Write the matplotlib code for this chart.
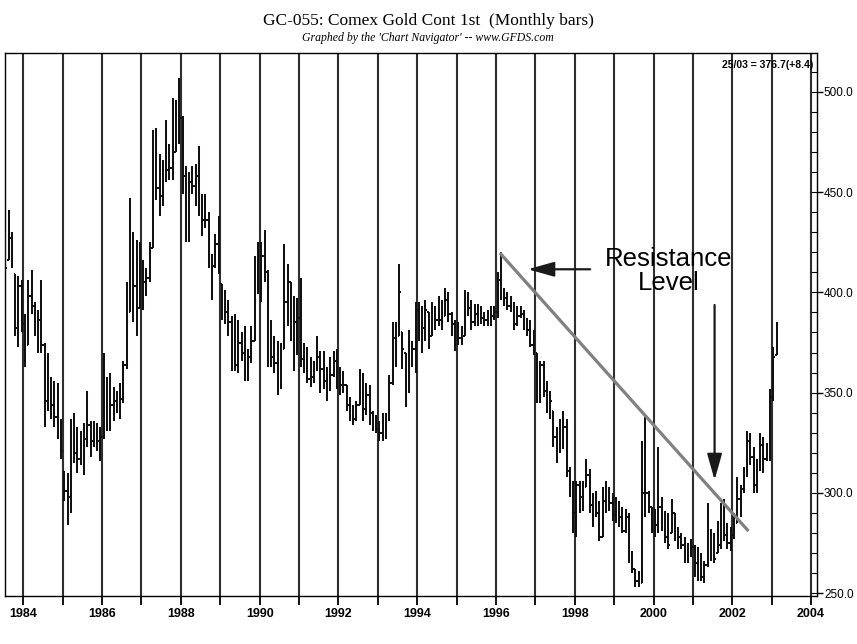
import numpy as np
import pandas as pd
import matplotlib
matplotlib.use("Agg")
import matplotlib.pyplot as plt
from matplotlib.collections import LineCollection
from matplotlib.patches import ArrowStyle

# ---------------- data (monthly bars, Jul 1983 .. Feb 2003) ----------------
first_month = "1983-07"
last_month = "2003-02"

highs = [
    428, 441, 430, 409, 408, 406,                                   # 1983 Jul-Dec
    389, 406, 411, 395, 391, 406, 375, 370, 358, 356, 355, 337,     # 1984
    311, 310, 337, 340, 333, 331, 335, 351, 336, 336, 335, 333,     # 1985
    370, 358, 360, 353, 351, 355, 366, 405, 447, 430, 426, 425,     # 1986
    416, 412, 425, 481, 482, 469, 466, 486, 474, 497, 496, 507,     # 1987
    488, 463, 460, 463, 464, 473, 449, 449, 440, 419, 429, 438,     # 1988
    404, 401, 396, 388, 389, 386, 380, 383, 372, 383, 418, 425,     # 1989
    425, 431, 411, 386, 378, 376, 375, 424, 414, 405, 398, 397,     # 1990
    407, 375, 373, 368, 366, 378, 371, 371, 363, 368, 371, 372,     # 1991
    363, 361, 354, 348, 344, 346, 362, 360, 355, 354, 341, 339,     # 1992
    336, 340, 340, 359, 385, 385, 414, 380, 370, 381, 376, 395,     # 1993
    395, 393, 396, 390, 395, 393, 398, 396, 402, 400, 390, 386,     # 1994
    385, 383, 401, 400, 396, 394, 394, 393, 390, 391, 393, 393,     # 1995
    410, 420, 402, 400, 398, 395, 393, 393, 391, 387, 386, 381,     # 1996
    370, 366, 366, 356, 351, 341, 333, 337, 341, 337, 313, 306,     # 1997
    306, 306, 306, 317, 312, 300, 301, 296, 303, 306, 303, 300,     # 1998
    298, 296, 293, 292, 290, 271, 262, 261, 326, 338, 301, 293,     # 1999
    292, 323, 298, 291, 290, 297, 290, 283, 280, 278, 275, 277,     # 2000
    274, 273, 270, 266, 295, 282, 280, 286, 295, 297, 285, 283,     # 2001
    290, 308, 304, 313, 331, 330, 323, 317, 330, 328, 325, 352,     # 2002
    373, 385,                                                       # 2003 Jan-Feb
]
lows = [
    410, 416, 412, 378, 373, 380,
    363, 374, 389, 378, 370, 370, 333, 341, 337, 333, 327, 317,
    296, 284, 290, 315, 310, 314, 309, 323, 318, 323, 321, 316,
    327, 331, 331, 336, 340, 337, 345, 362, 390, 385, 378, 392,
    391, 398, 405, 422, 446, 438, 443, 455, 456, 456, 470, 474,
    449, 425, 425, 449, 443, 438, 428, 432, 412, 396, 412, 409,
    386, 384, 378, 361, 361, 360, 366, 356, 356, 365, 376, 399,
    395, 405, 363, 363, 360, 349, 352, 372, 383, 376, 361, 369,
    363, 360, 355, 353, 355, 361, 350, 352, 346, 351, 358, 352,
    349, 350, 341, 336, 334, 336, 344, 336, 339, 334, 331, 330,
    326, 326, 327, 336, 354, 363, 378, 362, 343, 350, 363, 360,
    376, 370, 376, 372, 378, 381, 383, 381, 388, 385, 378, 371,
    374, 374, 378, 388, 381, 383, 383, 384, 383, 383, 383, 386,
    387, 396, 393, 391, 390, 381, 383, 387, 381, 378, 373, 369,
    345, 345, 348, 340, 337, 323, 315, 320, 322, 308, 298, 280,
    278, 290, 291, 303, 290, 283, 288, 276, 278, 290, 291, 286,
    285, 283, 280, 280, 265, 260, 253, 253, 255, 288, 290, 280,
    278, 280, 281, 275, 272, 280, 276, 272, 272, 265, 265, 268,
    258, 256, 256, 255, 263, 266, 265, 270, 272, 276, 272, 271,
    277, 285, 288, 300, 308, 314, 300, 300, 311, 310, 316, 316,
    346, 369,
]
closes = [
    412, 427, 420, 382, 403, 384,
    373, 398, 393, 382, 386, 374, 346, 350, 344, 338, 336, 321,
    301, 298, 330, 320, 317, 318, 327, 334, 326, 327, 326, 328,
    350, 341, 344, 346, 344, 347, 364, 390, 420, 403, 392, 405,
    405, 407, 422, 455, 452, 448, 457, 461, 462, 470, 490, 487,
    458, 428, 455, 453, 458, 440, 436, 436, 415, 413, 424, 412,
    392, 390, 385, 378, 364, 375, 370, 360, 368, 376, 410, 405,
    418, 410, 370, 368, 365, 355, 372, 395, 408, 380, 385, 387,
    367, 363, 357, 358, 362, 368, 362, 356, 356, 359, 366, 354,
    354, 354, 344, 338, 337, 344, 357, 342, 349, 340, 334, 332,
    330, 328, 338, 355, 377, 378, 400, 372, 355, 370, 372, 391,
    380, 382, 391, 375, 387, 386, 386, 388, 396, 389, 384, 384,
    377, 378, 394, 392, 385, 389, 386, 387, 386, 386, 388, 390,
    406, 401, 397, 393, 392, 384, 388, 389, 382, 381, 374, 371,
    347, 364, 351, 342, 346, 328, 326, 324, 333, 311, 300, 290,
    304, 298, 301, 309, 294, 297, 290, 278, 296, 293, 295, 289,
    288, 288, 281, 288, 268, 262, 256, 255, 300, 300, 293, 289,
    284, 293, 283, 278, 274, 290, 279, 278, 274, 267, 270, 273,
    265, 267, 258, 264, 268, 271, 267, 274, 293, 279, 275, 279,
    283, 297, 302, 309, 326, 318, 304, 312, 324, 317, 318, 348,
    368, 377,
]

year_lines = list(range(1984, 2005))
y_ticks = [250, 300, 350, 400, 450, 500]
ruler_levels = list(range(250, 520, 10))

resistance_start = (1996.10, 419.6)
resistance_end = (2002.41, 281.0)

# ---------------- figure ----------------
fig = plt.figure(figsize=(8.57, 6.44), dpi=100)
fig.patch.set_facecolor("white")
ax = fig.add_axes([5 / 857, 1 - 596 / 644, 812 / 857, 543 / 644])

months = pd.period_range(first_month, last_month, freq="M")
t = np.asarray(months.year + (months.month - 0.5) / 12.0, dtype=float)
H = np.asarray(highs, float)
L = np.asarray(lows, float)
C = np.asarray(closes, float)
O = np.empty_like(C)
O[0] = C[0]
O[1:] = np.clip(C[:-1], L[1:], H[1:])

xmin, xmax = 1983.535, 2004.15
ymin, ymax = 248.65, 519.3
ax.set_xlim(xmin, xmax)
ax.set_ylim(ymin, ymax)

# year grid lines
for yr in year_lines:
    ax.axvline(yr, color="#2e2e2e", lw=1.5, zorder=1)

# ruler on right side
ax.hlines(ruler_levels, 2004, xmax, color="black", lw=0.8, zorder=2)

# OHLC bars
w = 0.45 / 12
segs = []
for ti, o, h, l, c in zip(t, O, H, L, C):
    segs.append([(ti, l), (ti, h)])
    segs.append([(ti - w, o), (ti, o)])
    segs.append([(ti, c), (ti + w, c)])
lc = LineCollection(segs, colors="#111111", linewidths=1.45, zorder=3)
ax.add_collection(lc)

# resistance line
ax.plot([resistance_start[0], resistance_end[0]],
        [resistance_start[1], resistance_end[1]],
        color="#808080", lw=2.3, solid_capstyle="butt", zorder=4)

# annotations
lab_font = ["Liberation Sans", "DejaVu Sans"]
ax.text(2000.38, 422.5, "Resistance\nLevel", ha="center", va="top",
        fontsize=18.5, family=lab_font, linespacing=1.0, zorder=5)
arrow_style = ArrowStyle("-|>", head_length=16, head_width=4.5)
ax.annotate("", xy=(1996.81, 411.5), xytext=(1998.39, 411.5),
            arrowprops=dict(arrowstyle=arrow_style, mutation_scale=1,
                            color="#1a1a1a", lw=1.6, shrinkA=0, shrinkB=0),
            zorder=5)
ax.annotate("", xy=(2001.55, 306.4), xytext=(2001.55, 393.7),
            arrowprops=dict(arrowstyle=arrow_style, mutation_scale=1,
                            color="#1a1a1a", lw=1.6, shrinkA=0, shrinkB=0),
            zorder=5)

narrow = ["Liberation Sans Narrow", "Liberation Sans", "DejaVu Sans"]
ax.text(0.995, 0.978, "25/03 = 376.7(+8.4)", transform=ax.transAxes,
        ha="right", va="center", fontsize=7.5, family=narrow,
        fontweight="bold", zorder=6)

# axes / ticks
for sp in ax.spines.values():
    sp.set_color("black")
    sp.set_linewidth(1.0)

ax.set_xticks(year_lines)
ax.set_xticklabels([str(y) if y % 2 == 0 else "" for y in year_lines])
ax.tick_params(axis="x", direction="out", length=6.5, width=1.3, pad=2,
               labelsize=9, colors="black")
for lab in ax.get_xticklabels():
    lab.set_family(narrow)
    lab.set_fontweight("bold")

ax.yaxis.tick_right()
ax.set_yticks(y_ticks)
ax.set_yticklabels([f"{v:.1f}" for v in y_ticks])
ax.tick_params(axis="y", direction="out", length=4, width=1.0, pad=1,
               labelsize=8.5, colors="black")
for lab in ax.get_yticklabels():
    lab.set_family(narrow)

# titles
fig.text(0.4994, 1 - 25 / 644, "GC-055: Comex Gold Cont 1st  (Monthly bars)",
         ha="center", va="baseline", fontsize=12.5,
         family=["Liberation Serif", "DejaVu Serif"])
fig.text(0.4994, 1 - 41 / 644, "Graphed by the 'Chart Navigator' -- www.GFDS.com",
         ha="center", va="baseline", fontsize=8.5, style="italic",
         family=["Liberation Serif", "DejaVu Serif"])

fig.savefig("out.png", dpi=100, facecolor="white")
